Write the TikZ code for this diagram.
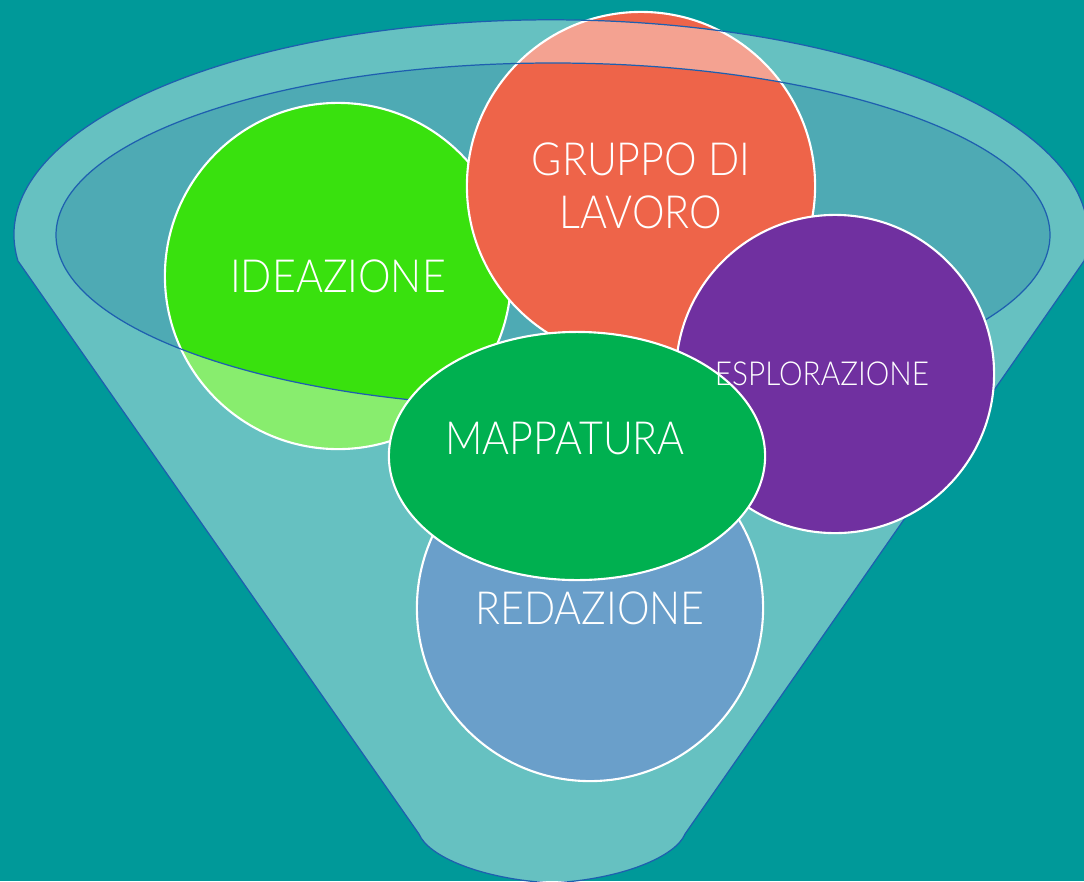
\documentclass[tikz,border=0pt]{standalone}
\usepackage{fontspec}
\newfontfamily\lf{Lato Light}[FakeStretch=0.9]
\usetikzlibrary{shapes.geometric,calc}
\definecolor{bgc}{RGB}{0,153,153}
\definecolor{innerc}{RGB}{78,170,180}
\definecolor{edgec}{RGB}{30,95,175}
\definecolor{ideac}{RGB}{57,225,14}
\definecolor{grupc}{RGB}{238,100,73}
\definecolor{esplc}{RGB}{112,48,160}
\definecolor{mapc}{RGB}{0,176,80}
\definecolor{redc}{RGB}{106,159,202}
\tikzset{
  bubble/.style={circle,draw=white,line width=0.6pt,inner sep=0pt},
  lbl/.style={text=white,font=\lf\fontsize{13}{15.1}\selectfont,align=center,inner sep=0pt},
  lblsmall/.style={text=white,font=\lf\fontsize{9.4}{11}\selectfont,align=center,inner sep=0pt},
  funnelline/.style={draw=edgec,line width=0.35pt}
}
\begin{document}
\begin{tikzpicture}[x=0.01cm,y=-0.01cm]
\useasboundingbox (0,0) rectangle (1084,881);
\fill[bgc] (0,0) rectangle (1084,881);
% inner ellipse of funnel mouth
\fill[innerc] (553,235) ellipse [x radius=497, y radius=172];
% circles beneath the funnel overlay
\node[bubble,fill=ideac,minimum size=3.46cm] (I) at (338,276) {};
\node[bubble,fill=grupc,minimum size=3.48cm] (G) at (641,186) {};
% funnel body (translucent white), excluding inner ellipse
\coordinate (jl) at (18,261);
\coordinate (jr) at (1084,261);
\coordinate (bl) at (419,834);
\coordinate (br) at (685,834);
\coordinate (bm) at (552,883);
\fill[white,fill opacity=0.4,even odd rule]
  (jl) arc[start angle=173, end angle=367, x radius=537, y radius=215]
  -- (br) .. controls (676,856) and (624,879) .. (bm)
  .. controls (480,879) and (428,856) .. (bl) -- cycle
  (553,235) ellipse [x radius=497, y radius=172];
\draw[funnelline]
  (jl) arc[start angle=173, end angle=367, x radius=537, y radius=215]
  -- (br) .. controls (676,856) and (624,879) .. (bm)
  .. controls (480,879) and (428,856) .. (bl) -- cycle;
\draw[funnelline] (553,235) ellipse [x radius=497, y radius=172];
% circles above the funnel
\node[bubble,fill=esplc,minimum size=3.18cm] (E) at (835,374) {};
\node[bubble,fill=redc,minimum size=3.46cm] (R) at (590,608) {};
\node[bubble,ellipse,fill=mapc,minimum width=3.76cm,minimum height=2.48cm] (M) at (577,456) {};
% labels
\node[lbl] (tI) at (I.center) {IDEAZIONE};
\node[lbl] (tG) at (G.center) {GRUPPO DI\\LAVORO};
\node[lblsmall] (tE) at ($(E.center)+(-13,0)$) {ESPLORAZIONE};
\node[lbl] (tM) at ($(M.center)+(-12,-17)$) {MAPPATURA};
\node[lbl] (tR) at (R.center) {REDAZIONE};
\end{tikzpicture}
\end{document}
